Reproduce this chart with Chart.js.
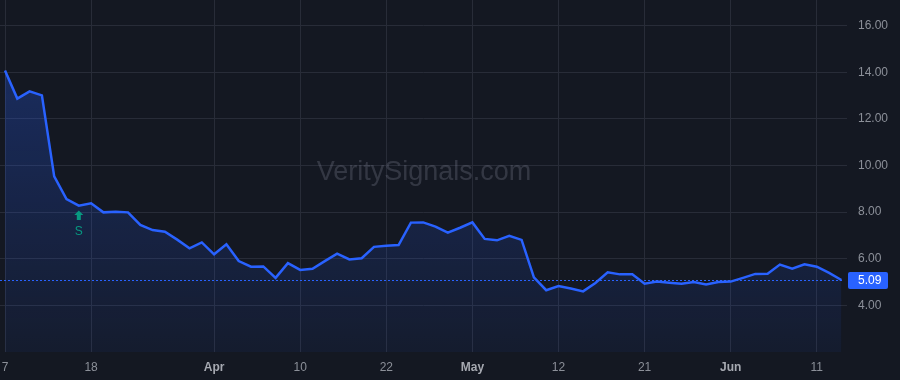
<!DOCTYPE html>
<html>
<head>
<meta charset="utf-8">
<script src="https://cdn.jsdelivr.net/npm/chart.js@4.4.1/dist/chart.umd.min.js"></script>
<style>
  html, body { margin: 0; padding: 0; background: #141822; }
  #wrap { width: 900px; height: 380px; }
</style>
</head>
<body>
<div id="wrap"><canvas id="chart" width="900" height="380"></canvas></div>
<script>
// trading days shown on the chart (2025)
const dates = [
  '2025-03-07', '2025-03-10', '2025-03-11', '2025-03-12', '2025-03-13', '2025-03-14', '2025-03-17', '2025-03-18',
  '2025-03-19', '2025-03-20', '2025-03-21', '2025-03-24', '2025-03-25', '2025-03-26', '2025-03-27', '2025-03-28',
  '2025-03-31', '2025-04-01', '2025-04-02', '2025-04-03', '2025-04-04', '2025-04-07', '2025-04-08', '2025-04-09',
  '2025-04-10', '2025-04-11', '2025-04-14', '2025-04-15', '2025-04-16', '2025-04-17', '2025-04-21', '2025-04-22',
  '2025-04-23', '2025-04-24', '2025-04-25', '2025-04-28', '2025-04-29', '2025-04-30', '2025-05-01', '2025-05-02',
  '2025-05-05', '2025-05-06', '2025-05-07', '2025-05-08', '2025-05-09', '2025-05-12', '2025-05-13', '2025-05-14',
  '2025-05-15', '2025-05-16', '2025-05-19', '2025-05-20', '2025-05-21', '2025-05-22', '2025-05-23', '2025-05-27',
  '2025-05-28', '2025-05-29', '2025-05-30', '2025-06-02', '2025-06-03', '2025-06-04', '2025-06-05', '2025-06-06',
  '2025-06-09', '2025-06-10', '2025-06-11', '2025-06-12', '2025-06-13'
];

const prices = [
  14.08, 12.87, 13.18, 13.01, 9.53, 8.56, 8.28, 8.38,
  7.99, 8.02, 7.99, 7.45, 7.23, 7.16, 6.82, 6.45,
  6.70, 6.19, 6.62, 5.90, 5.66, 5.67, 5.18, 5.81,
  5.52, 5.57, 5.90, 6.22, 5.97, 6.02, 6.51, 6.56,
  6.59, 7.55, 7.56, 7.38, 7.12, 7.33, 7.56, 6.85,
  6.79, 6.98, 6.81, 5.20, 4.65, 4.83, 4.72, 4.60,
  4.96, 5.42, 5.33, 5.33, 4.93, 5.02, 4.97, 4.93,
  5.00, 4.90, 5.00, 5.02, 5.18, 5.35, 5.36, 5.75,
  5.57, 5.76, 5.66, 5.39, 5.09
];

const tickDates = ['2025-03-07', '2025-03-18', '2025-04-01', '2025-04-10', '2025-04-22',
                   '2025-05-01', '2025-05-12', '2025-05-21', '2025-06-02', '2025-06-11'];
const tickLabels = ['7', '18', 'Apr', '10', '22', 'May', '12', '21', 'Jun', '11'];
const monthLabels = ['Apr', 'May', 'Jun'];

const priceTicks = [4, 6, 8, 10, 12, 14, 16];
const lastPrice = 5.09;

const signalDate = '2025-03-17';
const signalText = 'S';
const watermark = 'VeritySignals.com';

const BLUE = '#2962ff';
const GRID = '#282c38';
const TEXT = '#8c9099';
const FONT = '"Liberation Sans", Arial, sans-serif';

const points = prices.map((p, i) => ({ x: i, y: p }));
const tickIdx = tickDates.map(d => dates.indexOf(d));

// drop the label overflow padding chart.js adds around the chart area
const noPad = (scale) => {
  scale.paddingTop = 0;
  scale.paddingBottom = 0;
  scale.paddingLeft = 0;
  scale.paddingRight = 0;
};

const watermarkPlugin = {
  id: 'watermark',
  beforeDatasetsDraw(chart) {
    const { ctx } = chart;
    ctx.save();
    ctx.font = '27px ' + FONT;
    ctx.fillStyle = 'rgba(125,130,145,0.30)';
    ctx.textAlign = 'center';
    ctx.textBaseline = 'middle';
    ctx.fillText(watermark, 424, 173);
    ctx.restore();
  }
};

const overlayPlugin = {
  id: 'overlay',
  afterDatasetsDraw(chart) {
    const { ctx, chartArea, scales } = chart;
    const x = scales.x, y = scales.y;

    // last price dotted line + label
    const ly = Math.round(y.getPixelForValue(lastPrice)) + 0.5;
    ctx.save();
    ctx.strokeStyle = BLUE;
    ctx.lineWidth = 1;
    ctx.setLineDash([2, 2]);
    ctx.beginPath();
    ctx.moveTo(chartArea.left, ly);
    ctx.lineTo(chartArea.right - 5, ly);
    ctx.stroke();
    ctx.setLineDash([]);
    ctx.fillStyle = BLUE;
    ctx.beginPath();
    ctx.roundRect(chartArea.right + 1, ly - 8.5, 40, 17, 2);
    ctx.fill();
    ctx.fillStyle = '#ffffff';
    ctx.font = '12px ' + FONT;
    ctx.textAlign = 'left';
    ctx.textBaseline = 'middle';
    ctx.fillText(lastPrice.toFixed(2), chartArea.right + 11, ly + 0.5);

    // signal marker
    const si = dates.indexOf(signalDate);
    const sx = x.getPixelForValue(si);
    const sy = y.getPixelForValue(prices[si]);
    const top = sy + 5;
    ctx.fillStyle = '#089981';
    ctx.beginPath();
    ctx.moveTo(sx, top);
    ctx.lineTo(sx + 4.5, top + 4.5);
    ctx.lineTo(sx + 2, top + 4.5);
    ctx.lineTo(sx + 2, top + 9.5);
    ctx.lineTo(sx - 2, top + 9.5);
    ctx.lineTo(sx - 2, top + 4.5);
    ctx.lineTo(sx - 4.5, top + 4.5);
    ctx.closePath();
    ctx.fill();
    ctx.font = '12px ' + FONT;
    ctx.textAlign = 'center';
    ctx.textBaseline = 'middle';
    ctx.fillText(signalText, sx, top + 21);
    ctx.restore();
  }
};

new Chart(document.getElementById('chart'), {
  type: 'line',
  data: {
    datasets: [{
      data: points,
      borderColor: BLUE,
      borderWidth: 2.5,
      pointRadius: 0,
      tension: 0,
      fill: 'start',
      backgroundColor: (context) => {
        const area = context.chart.chartArea;
        if (!area) return 'rgba(41,98,255,0.15)';
        const g = context.chart.ctx.createLinearGradient(0, area.top + 60, 0, area.bottom);
        g.addColorStop(0, 'rgba(41,98,255,0.28)');
        g.addColorStop(1, 'rgba(41,98,255,0.06)');
        return g;
      },
    }]
  },
  options: {
    responsive: false,
    animation: false,
    devicePixelRatio: 1,
    layout: { padding: 0 },
    plugins: {
      legend: { display: false },
      tooltip: { enabled: false },
    },
    scales: {
      x: {
        type: 'linear',
        min: -5 / 12.3,
        max: -5 / 12.3 + 847 / 12.3,
        afterBuildTicks: (scale) => {
          scale.ticks = tickIdx.map(v => ({ value: v }));
        },
        afterFit: (scale) => { scale.height = 28; noPad(scale); },
        border: { display: false },
        grid: { color: GRID, drawTicks: false },
        ticks: {
          padding: 8,
          maxRotation: 0,
          autoSkip: false,
          color: (c) => monthLabels.includes(tickLabels[c.index]) ? '#a6a9b1' : TEXT,
          font: (c) => ({
            family: FONT,
            size: 12,
            weight: monthLabels.includes(tickLabels[c.index]) ? 'bold' : 'normal'
          }),
          callback: (value, index) => tickLabels[index],
        },
      },
      y: {
        position: 'right',
        min: 2.0,
        max: 17.1,
        afterBuildTicks: (scale) => {
          scale.ticks = priceTicks.map(v => ({ value: v }));
        },
        afterFit: (scale) => { scale.width = 53; noPad(scale); },
        border: { display: false },
        grid: { color: GRID, drawTicks: false },
        ticks: {
          padding: 11,
          color: TEXT,
          font: { family: FONT, size: 12 },
          callback: (v) => Number(v).toFixed(2),
        },
      },
    },
  },
  plugins: [watermarkPlugin, overlayPlugin],
});
</script>
</body>
</html>
